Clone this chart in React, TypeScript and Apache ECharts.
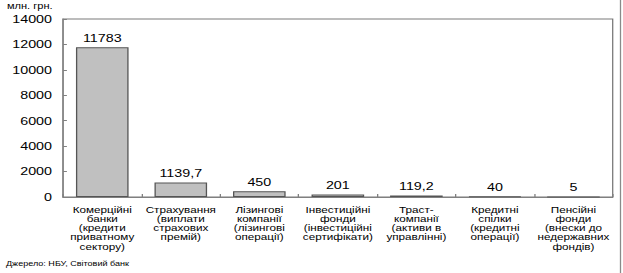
import React, { useEffect, useRef } from "react";
import * as echarts from "echarts";

const categories = [
  "Комерційні\nбанки\n(кредити\nприватному\nсектору)",
  "Страхування\n(виплати\nстрахових\nпремій)",
  "Лізингові\nкомпанії\n(лізингові\nоперації)",
  "Інвестиційні\nфонди\n(інвестиційні\nсертифікати)",
  "Траст-\nкомпанії\n(активи в\nуправлінні)",
  "Кредитні\nспілки\n(кредитні\nоперації)",
  "Пенсійні\nфонди\n(внески до\nнедержавних\nфондів)",
];
const values = [11783, 1139.7, 450, 201, 119.2, 40, 5];
const valueLabels = ["11783", "1139,7", "450", "201", "119,2", "40", "5"];
const yMin = 0;
const yMax = 14000;
const yStep = 2000;
const unitText = "млн. грн.";
const sourceText = "Джерело: НБУ, Світовий банк";

const S = 1.3; // horizontal stretch of the original picture
const W = 623;
const H = 273;
const FONT = "'Liberation Sans', Arial, sans-serif";

export default function App() {
  const ref = useRef<HTMLDivElement>(null);
  useEffect(() => {
    if (!ref.current) return;
    const chart = echarts.init(ref.current, undefined, { renderer: "svg" });
    chart.setOption({
      animation: false,
      backgroundColor: "#ffffff",
      textStyle: { fontFamily: FONT },
      grid: {
        left: 63 / S,
        right: (W - 613) / S,
        top: 19,
        bottom: H - 197,
        show: true,
        borderColor: "#7a7a7a",
        borderWidth: 1,
        containLabel: false,
      },
      xAxis: {
        type: "category",
        data: categories,
        axisLine: { show: true, lineStyle: { color: "#808080", width: 1 } },
        axisTick: { show: true, inside: true, length: 3, lineStyle: { color: "#808080" } },
        axisLabel: {
          interval: 0,
          margin: 8,
          fontSize: 9,
          lineHeight: 9.25,
          color: "#000",
          fontFamily: FONT,
          align: "center",
        },
      },
      yAxis: {
        type: "value",
        min: yMin,
        max: yMax,
        interval: yStep,
        splitLine: { show: false },
        axisLine: { show: true, lineStyle: { color: "#808080", width: 1 } },
        axisTick: { show: true, inside: true, length: 3, lineStyle: { color: "#808080" } },
        axisLabel: {
          fontSize: 11,
          color: "#000",
          margin: 11 / S,
          fontFamily: FONT,
          formatter: (v: number) => String(v),
        },
      },
      series: [
        {
          type: "bar",
          data: values,
          barWidth: "67%",
          itemStyle: { color: "#c0c0c0", borderColor: "#555555", borderWidth: 1 },
          label: {
            show: true,
            position: "top",
            distance: 4,
            fontSize: 11,
            color: "#000",
            fontFamily: FONT,
            formatter: (p: any) => valueLabels[p.dataIndex],
          },
        },
      ],
      graphic: [
        {
          type: "text",
          x: 7 / S,
          y: 1,
          style: { text: unitText, fontSize: 8.5, fill: "#000", fontFamily: FONT },
        },
        {
          type: "text",
          x: 6 / S,
          y: 259,
          scaleX: 0.87,
          style: { text: sourceText, fontSize: 8, fill: "#000", fontFamily: FONT },
        },
        {
          type: "line",
          shape: { x1: 620.5 / S, y1: 0, x2: 620.5 / S, y2: H },
          style: { stroke: "#8a8a8a", lineWidth: 1 },
        },
      ],
    });
    return () => chart.dispose();
  }, []);
  return (
    <div
      style={{
        position: "fixed",
        left: 0,
        top: 0,
        width: W,
        height: H,
        overflow: "hidden",
        background: "#fff",
      }}
    >
      <div
        ref={ref}
        style={{
          width: W / S,
          height: H,
          transform: `scaleX(${S})`,
          transformOrigin: "0 0",
        }}
      />
    </div>
  );
}
